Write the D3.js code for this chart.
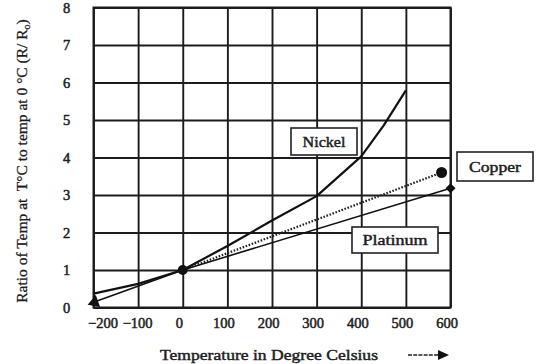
<!DOCTYPE html>
<html>
<head>
<meta charset="utf-8">
<script src="https://cdn.jsdelivr.net/npm/d3@7"></script>
<style>
  body { margin: 0; background: #fff; }
  svg text { font-family: "Liberation Serif", "Times New Roman", serif; fill: #1a1a1a; white-space: pre; }
</style>
</head>
<body>
<div id="chart"></div>
<script>
// values
var xTicks = [-200, -100, 0, 100, 200, 300, 400, 500, 600];
var yTicks = [0, 1, 2, 3, 4, 5, 6, 7, 8];

var nickelTemps  = [-200, -100, 0, 100, 200, 300, 400, 450, 500];
var nickelRatios = [0.37, 0.63, 1.0, 1.64, 2.32, 2.97, 4.03, 4.85, 5.79];
var copperTemps  = [0, 580];
var copperRatios = [1.0, 3.6];
var platinumTemps  = [-200, 0, 600];
var platinumRatios = [0.14, 1.0, 3.18];

var seriesLabels = ['Nickel', 'Copper', 'Platinum'];

var svg = d3.select('#chart').append('svg').attr('width', 538).attr('height', 364);

var xScale = d3.scaleLinear().domain([-200, 600]).range([93.5, 450.5]);
var yScale = d3.scaleLinear().domain([0, 8]).range([307.5, 7.5]);

// grid + tick labels
var xAxis = d3.axisBottom(xScale).tickValues(xTicks).tickSize(-300).tickPadding(10).tickFormat(d3.format('d'));
var yAxis = d3.axisLeft(yScale).tickValues(yTicks).tickSize(-357).tickPadding(22).tickFormat(d3.format('d'));

var gx = svg.append('g').attr('transform', 'translate(0,307.5)').call(xAxis);
var gy = svg.append('g').attr('transform', 'translate(93.5,0)').call(yAxis);

[gx, gy].forEach(function(g) {
  g.select('.domain').remove();
  g.selectAll('line').attr('stroke', '#1c1c1c').attr('stroke-width', 1.9);
  g.selectAll('text').style('font-size', '14.5px').attr('fill', '#222')
    .attr('stroke', '#222').attr('stroke-width', 0.5);
});
gx.selectAll('text').attr('dx', function(d) { return d === -200 ? 9 : -4 }).attr('y', 10);
gx.selectAll('text').filter(function(d) { return d === -100 }).attr('dx', -1);
gy.selectAll('text').attr('text-anchor', 'middle').attr('x', -27);

// frame
svg.append('rect').attr('x', xScale(-200)).attr('y', yScale(8))
  .attr('width', xScale(600) - xScale(-200)).attr('height', yScale(0) - yScale(8))
  .attr('fill', 'none').attr('stroke', '#1c1c1c').attr('stroke-width', 2);

function toPoints(ts, rs) { return ts.map(function(t, i) { return [t, rs[i]] }) }
var line = d3.line().x(function(d) { return xScale(d[0]) }).y(function(d) { return yScale(d[1]) });

svg.append('path').datum(toPoints(platinumTemps, platinumRatios))
  .attr('fill', 'none').attr('stroke', '#111').attr('stroke-width', 1.6).attr('d', line);

svg.append('path').datum(toPoints(copperTemps, copperRatios))
  .attr('fill', 'none').attr('stroke', '#222').attr('stroke-width', 2.2)
  .attr('stroke-dasharray', '1.6,1.6').attr('d', line);

svg.append('path').datum(toPoints(nickelTemps, nickelRatios))
  .attr('fill', 'none').attr('stroke', '#111').attr('stroke-width', 2.2)
  .attr('stroke-linejoin', 'round').attr('d', line);

// markers
svg.append('circle').attr('cx', xScale(0)).attr('cy', yScale(1)).attr('r', 5).attr('fill', '#111');
svg.append('circle').attr('cx', xScale(copperTemps[1])).attr('cy', yScale(copperRatios[1])).attr('r', 5.5).attr('fill', '#111');
svg.append('path').attr('d', d3.symbol().type(d3.symbolSquare).size(50)())
  .attr('transform', 'translate(' + xScale(platinumTemps[2]) + ',' + yScale(platinumRatios[2]) + ') rotate(45)')
  .attr('fill', '#111');
svg.append('path').attr('d', d3.symbol().type(d3.symbolTriangle).size(70)())
  .attr('transform', 'translate(' + (xScale(platinumTemps[0]) + 1) + ',' + yScale(platinumRatios[0]) + ') rotate(-110)')
  .attr('fill', '#111');

// label boxes
var boxes = [
  { x: 291, y: 128, w: 66, h: 27 },
  { x: 457, y: 152, w: 76, h: 29 },
  { x: 352, y: 227, w: 86, h: 26 }
];
var boxTextLen = [43, 52, 65];
boxes.forEach(function(b, i) {
  svg.append('rect').attr('x', b.x).attr('y', b.y).attr('width', b.w).attr('height', b.h)
    .attr('fill', '#fff').attr('stroke', '#222').attr('stroke-width', 1.6);
  svg.append('text').attr('x', b.x + b.w / 2).attr('y', b.y + b.h / 2 + 5)
    .attr('text-anchor', 'middle').style('font-size', '15px')
    .attr('stroke', '#222').attr('stroke-width', 0.45)
    .attr('textLength', boxTextLen[i]).attr('lengthAdjust', 'spacingAndGlyphs')
    .text(seriesLabels[i]);
});

// axis titles
svg.append('text').attr('x', 160).attr('y', 360).style('font-size', '15px')
  .attr('stroke', '#222').attr('stroke-width', 0.45)
  .attr('textLength', 218).attr('lengthAdjust', 'spacingAndGlyphs')
  .text('Temperature in Degree Celsius');

svg.append('line').attr('x1', 408).attr('x2', 440).attr('y1', 355).attr('y2', 355)
  .attr('stroke', '#222').attr('stroke-width', 1.5).attr('stroke-dasharray', '4,1.2');
svg.append('path').attr('d', 'M438,350 L449,355 L438,360 Z').attr('fill', '#111');

var yt = svg.append('text').attr('transform', 'translate(27,161) rotate(-90)')
  .attr('text-anchor', 'middle').style('font-size', '15.5px')
  .attr('stroke', '#222').attr('stroke-width', 0.3);
yt.append('tspan').text('Ratio of Temp at  T°C to temp at 0 °C (R/ R');
yt.append('tspan').attr('dy', 3).style('font-size', '10px').text('o');
yt.append('tspan').attr('dy', -3).text(')');
</script>
</body>
</html>
